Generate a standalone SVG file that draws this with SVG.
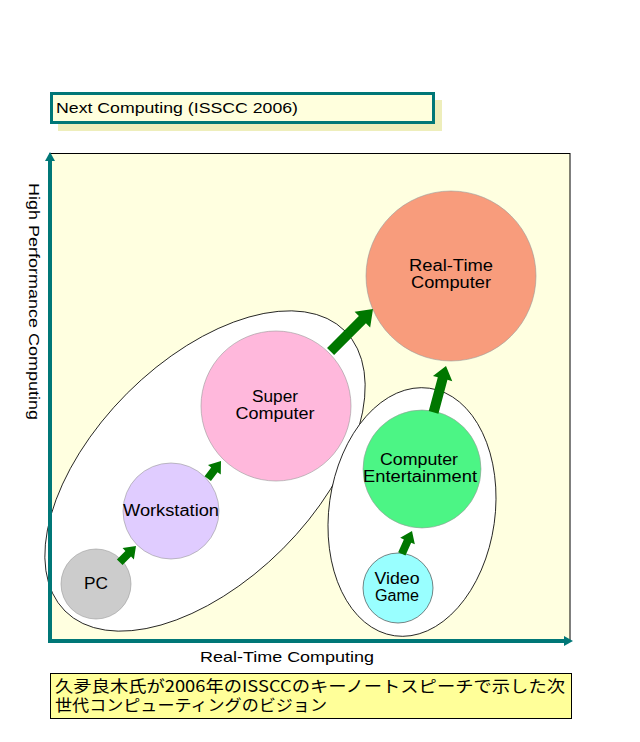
<svg xmlns="http://www.w3.org/2000/svg" width="640" height="742" viewBox="0 0 640 742">
<style>
.lbl{font-family:"Liberation Sans","Noto Sans",sans-serif;font-size:16px;fill:#000;text-anchor:middle}
.ax{font-family:"Liberation Sans","Noto Sans",sans-serif;font-size:15px;fill:#000}
.node{stroke:#999;stroke-width:0.6}
.grp{fill:#fff;stroke:#000;stroke-width:0.8}
.arr{fill:#007700}
.axis{stroke:#007777;stroke-width:4;fill:none}
.jp{font-family:"Noto Sans CJK JP","Liberation Sans",sans-serif;font-size:16px;fill:#000}
</style>
<rect width="640" height="742" fill="#fff"/>
<g id="title">
<rect x="58" y="100" width="384" height="31" fill="#eeeebb"/>
<rect x="51.5" y="93.5" width="382" height="29" fill="#ffffdd" stroke="#007777" stroke-width="3"/>
<text x="56" y="113" class="ax" font-size="16" textLength="242" lengthAdjust="spacingAndGlyphs">Next Computing (ISSCC 2006)</text>
</g>
<g id="plot">
<rect x="50" y="153.5" width="520" height="487" fill="#ffffe0" stroke="#000" stroke-width="1"/>
</g>
<g id="group-left">
<ellipse cx="205" cy="471" rx="198" ry="110" transform="rotate(-45 205 471)" class="grp"/>
</g>
<g id="group-right">
<ellipse cx="412" cy="512" rx="83" ry="125" transform="rotate(8 412 512)" class="grp"/>
</g>
<g id="axes">
<path class="axis" d="M50,643 V160 M48,641 H565"/>
<path d="M50,152 L55,161 L45,161 Z" fill="#007777"/>
<path d="M573,641 L564,636 L564,646 Z" fill="#007777"/>
<text class="ax" transform="translate(29,183) rotate(90)" textLength="237" lengthAdjust="spacingAndGlyphs">High Performance Computing</text>
<text class="ax" x="200" y="662" textLength="174" lengthAdjust="spacingAndGlyphs">Real-Time Computing</text>
</g>
<g id="pc">
<circle cx="96" cy="584" r="35" fill="#cccccc" class="node"/>
<text class="lbl" x="96" y="589" textLength="24" lengthAdjust="spacingAndGlyphs">PC</text>
</g>
<g id="workstation">
<circle cx="171" cy="511" r="48" fill="#e0ccff" class="node"/>
<text class="lbl" x="171" y="516" textLength="96" lengthAdjust="spacingAndGlyphs">Workstation</text>
</g>
<g id="supercomputer">
<circle cx="276" cy="406" r="75" fill="#ffb8dc" class="node"/>
<text class="lbl" x="275" y="401.5" textLength="46" lengthAdjust="spacingAndGlyphs">Super</text>
<text class="lbl" x="275" y="419" textLength="79" lengthAdjust="spacingAndGlyphs">Computer</text>
</g>
<g id="realtime">
<circle cx="451" cy="276" r="85" fill="#f89c7c" class="node"/>
<text class="lbl" x="451" y="271" textLength="84" lengthAdjust="spacingAndGlyphs">Real-Time</text>
<text class="lbl" x="451" y="288" textLength="80" lengthAdjust="spacingAndGlyphs">Computer</text>
</g>
<g id="entertainment">
<circle cx="422" cy="469" r="59" fill="#4cf585" class="node"/>
<text class="lbl" x="419" y="465" textLength="78" lengthAdjust="spacingAndGlyphs">Computer</text>
<text class="lbl" x="420" y="482" textLength="114" lengthAdjust="spacingAndGlyphs">Entertainment</text>
</g>
<g id="videogame">
<circle cx="398" cy="588" r="35" fill="#99ffff" stroke="#333" stroke-width="0.6"/>
<text class="lbl" x="397" y="584" textLength="45" lengthAdjust="spacingAndGlyphs">Video</text>
<text class="lbl" x="397" y="601" textLength="44" lengthAdjust="spacingAndGlyphs">Game</text>
</g>
<g id="connectors">
<path class="arr" transform="translate(136,546) rotate(-45)" d="M0,0 L-11,-8 L-11,-4 L-23,-4 L-23,4 L-11,4 L-11,8 Z"/>
<path class="arr" transform="translate(221,461) rotate(-53)" d="M0,0 L-11,-8 L-11,-4 L-22,-4 L-22,4 L-11,4 L-11,8 Z"/>
<path class="arr" transform="translate(373,309) rotate(-45)" d="M0,0 L-15,-11 L-15,-5 L-60,-5 L-60,5 L-15,5 L-15,11 Z"/>
<path class="arr" transform="translate(412,531) rotate(-66)" d="M0,0 L-11,-8 L-11,-4 L-25,-4 L-25,4 L-11,4 L-11,8 Z"/>
<path class="arr" transform="translate(446,366) rotate(-75)" d="M0,0 L-13,-10 L-13,-5 L-48,-5 L-48,5 L-13,5 L-13,10 Z"/>
</g>
<g id="caption">
<rect x="50.5" y="673.5" width="521" height="45" fill="#ffff99" stroke="#000" stroke-width="1"/>
<text class="jp" x="55" y="692" textLength="510" lengthAdjust="spacingAndGlyphs">久夛良木氏が2006年のISSCCのキーノートスピーチで示した次</text>
<text class="jp" x="55" y="711" textLength="272" lengthAdjust="spacingAndGlyphs">世代コンピューティングのビジョン</text>
</g>
</svg>
